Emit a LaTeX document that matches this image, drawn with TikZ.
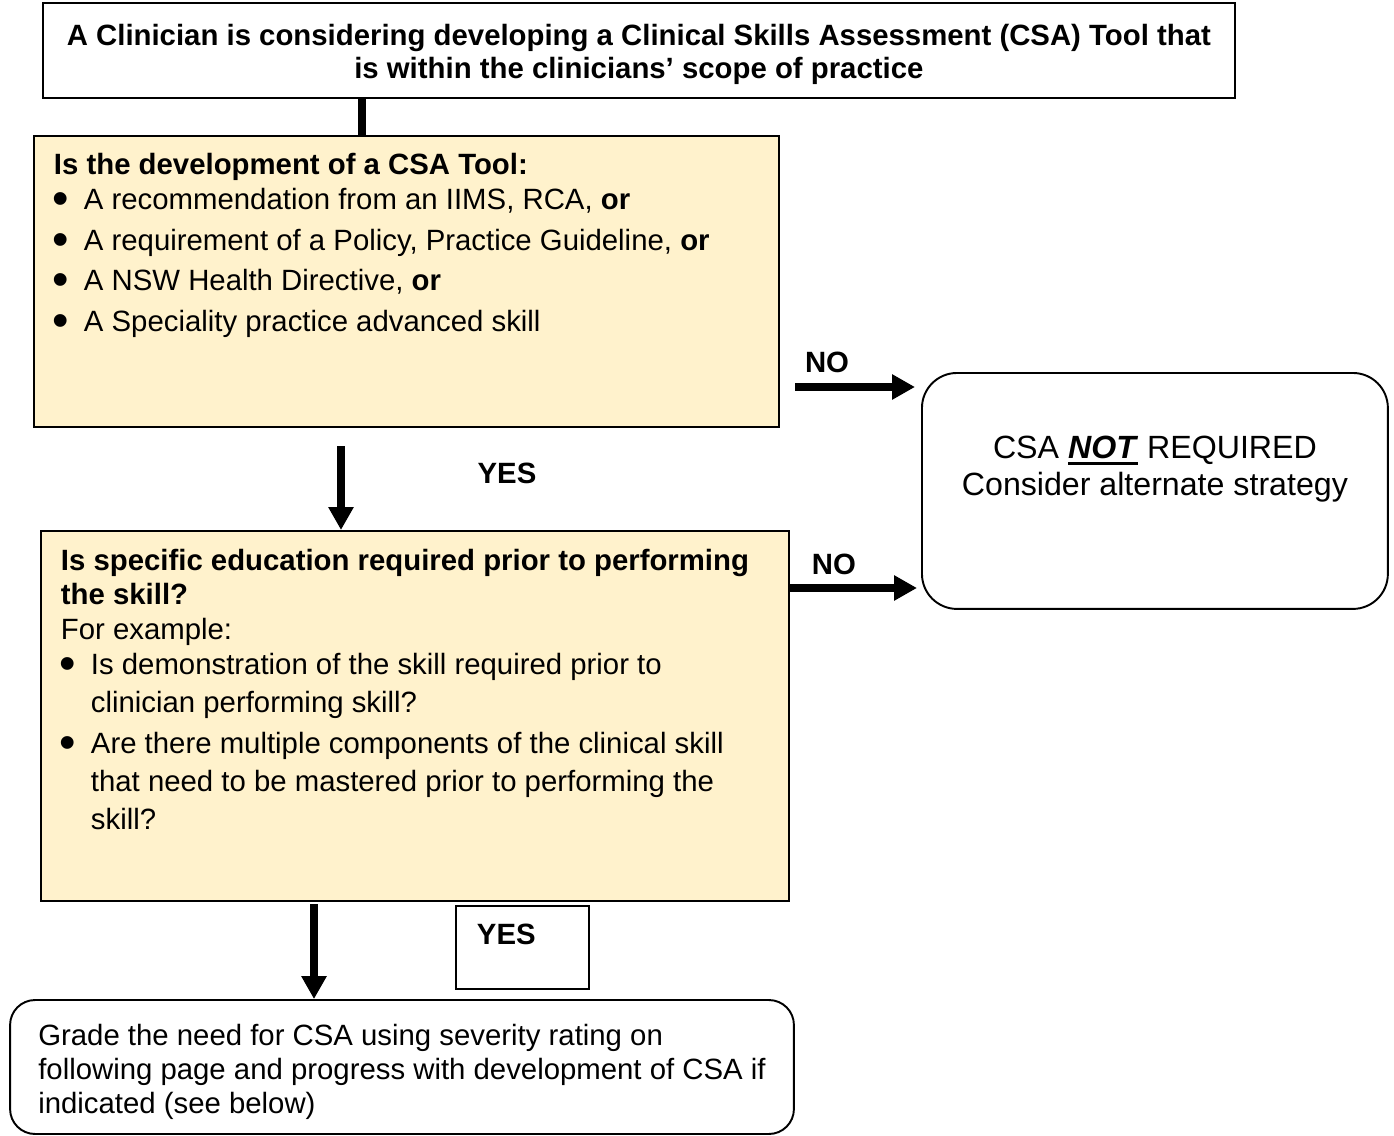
\documentclass[tikz,border=0pt]{standalone}
\usepackage{fontspec}
\setmainfont{Liberation Sans}
\usepackage{xcolor}
\usepackage{tikz}
\usetikzlibrary{arrows.meta}
\usetikzlibrary{calc}
\definecolor{qcream}{HTML}{FFF2CC}
\newcommand{\bul}[1]{\par\hangindent=0.6cm\hangafter=1\noindent\makebox[0.6cm][l]{\hspace{-0.03cm}\smash{\raisebox{-0.1cm}{\scalebox{1.6}{\textbullet}}}}#1\par}
\newcommand{\ulnot}[1]{\setbox0\hbox{#1}\rlap{\rule[-0.13cm]{\wd0}{0.06cm}}\box0\relax}

\begin{document}
\begin{tikzpicture}[>={Triangle[length=0.46cm,width=0.48cm]} , x = 0.02cm , y = -0.02cm ,
    every node/.style={font=\fontsize{16.7}{18.7}\selectfont},
    qbox/.style={draw, line width=1.1pt, fill=qcream, anchor=north west, inner ysep=0pt, inner xsep=0.4cm},
    endbox/.style={draw, line width=1.1pt, rounded corners=#1},
    bigline/.style={line width=4.4pt}]
  \useasboundingbox (0,0) rectangle (1394,1136);

  \node[draw, line width=1.1pt, anchor=north west, inner sep=0pt,
        font=\fontsize{16.7}{18.7}\selectfont\bfseries] (top) at (42,2)
    {\parbox[c][1.9cm][t]{23.84cm}{\centering\baselineskip=0.66cm
     \rule{0pt}{0.85cm}A Clinician is considering developing a Clinical Skills Assessment (CSA) Tool that\\
     is within the clinicians’ scope of practice}};

  \node[qbox] (q1) at (33,135) {\parbox[c][5.82cm][t]{14.1cm}{\baselineskip=0.7cm
    \rule{0pt}{0.77cm}\textbf{Is the development of a CSA Tool:}
    \bul{A recommendation from an IIMS, RCA, \textbf{or}}
    \vspace{0.12cm}\bul{A requirement of a Policy, Practice Guideline, \textbf{or}}
    \vspace{0.1cm}\bul{A NSW Health Directive, \textbf{or}}
    \vspace{0.12cm}\bul{A Speciality practice advanced skill}}};

  \node[qbox] (q2) at (40,530) {\parbox[c][7.4cm][t]{14.16cm}{\baselineskip=0.69cm
    \rule{0pt}{0.79cm}\textbf{Is specific education required prior to performing\\ the skill?}\\
    For example:\par
    \baselineskip=0.76cm
    \vspace{-0.06cm}\bul{Is demonstration of the skill required prior to\\ clinician performing skill?}
    \vspace{0.06cm}\bul{Are there multiple components of the clinical skill\\ that need to be mastered prior to performing the\\ skill?}}};

  \node[endbox=0.7cm, anchor=north west, inner sep=0pt, font=\fontsize{18.3}{20.5}\selectfont] (notreq) at (921,372)
    {\parbox[c][4.72cm][t]{9.32cm}{\centering\baselineskip=0.74cm
     \rule{0pt}{1.71cm}CSA \ulnot{\textbf{\textit{NOT}}} REQUIRED\\ Consider alternate strategy}};

  \node[draw, line width=1.1pt, anchor=north west, inner ysep=0pt, inner xsep=0.42cm] (yesbox) at (455,905)
    {\parbox[c][1.66cm][t]{1.82cm}{\rule{0pt}{0.77cm}\textbf{YES}}};

  \node[endbox=0.5cm, minimum width=15.68cm, minimum height=2.68cm, inner sep=0pt, align=left,
        font=\fontsize{16.7}{19.3}\selectfont] (grade) at (402,1067)
    {\rule{0pt}{0.62cm}Grade the need for CSA using severity rating on\\
     following page and progress with development of CSA if\\
     indicated (see below)};

  \node[inner sep=0pt, font=\fontsize{16.7}{18.7}\selectfont\bfseries] (no1) at (827,362) {NO};
  \node[inner sep=0pt, font=\fontsize{16.7}{18.7}\selectfont\bfseries] (no2) at (834,564) {NO};
  \node[inner sep=0pt, font=\fontsize{16.7}{18.7}\selectfont\bfseries] (yes1) at (507,473) {YES};

  \coordinate (c0) at (362,97);
  \coordinate (d1) at (341,446);
  \coordinate (n1) at (795,387);
  \coordinate (n2) at (790,588);
  \coordinate (d2) at (314,904);

  \draw[bigline] (top.south -| c0) -- (q1.north -| c0);
  \draw[bigline,->] (d1) -- (q2.north -| d1);
  \draw[bigline,->] (n1) -- ($(notreq.west |- n1)+(-6,0)$);
  \draw[bigline,->] (n2) -- ($(notreq.west |- n2)+(-4,0)$);
  \draw[bigline,->] (d2) -- (grade.north -| d2);
\end{tikzpicture}
\end{document}
